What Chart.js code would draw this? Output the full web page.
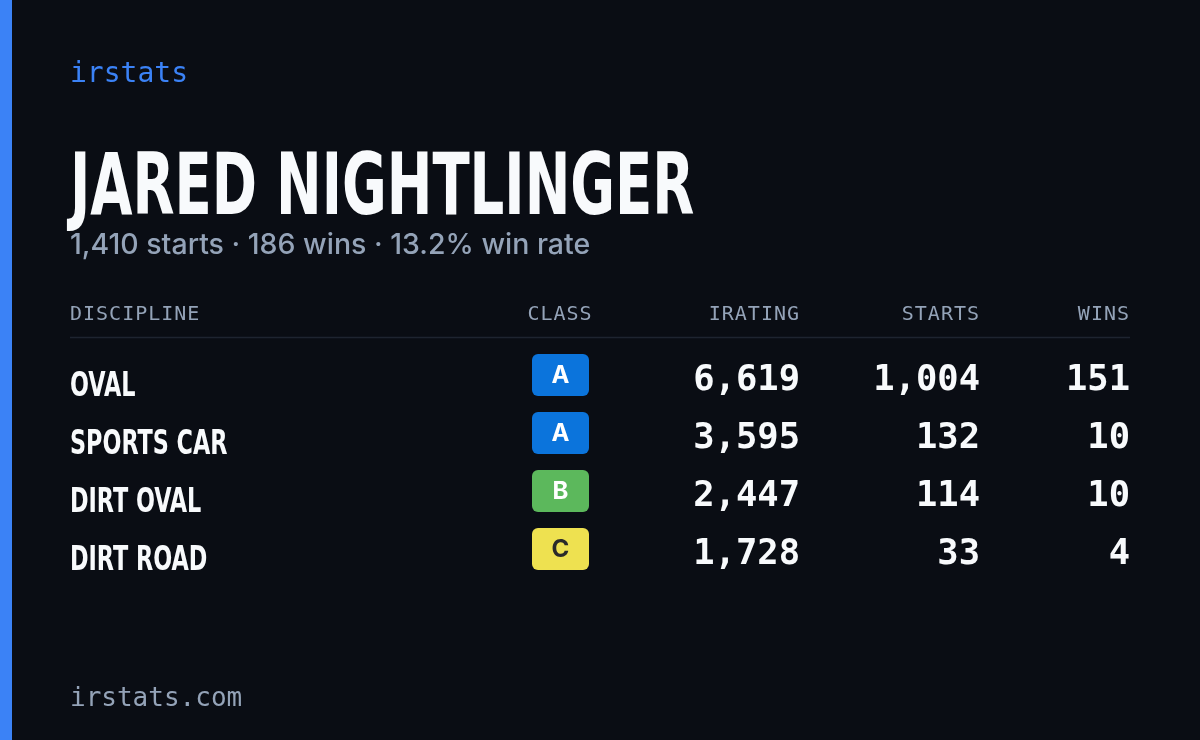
<!DOCTYPE html>
<html><head><meta charset="utf-8">
<script src="https://cdn.jsdelivr.net/npm/chart.js@4.4.1/dist/chart.umd.min.js"></script>
<style>html,body{margin:0;background:#0a0d14;}#w{position:relative;width:1200px;height:740px;}canvas{display:block}</style>
</head><body><div id="w"><canvas id="c" width="1200" height="740"></canvas></div>
<script>
const brand = "irstats";
const footer = "irstats.com";
const driver = "JARED NIGHTLINGER";
const summary = "1,410 starts · 186 wins · 13.2% win rate";
const headers = ["DISCIPLINE", "CLASS", "IRATING", "STARTS", "WINS"];
const disciplines = ["OVAL", "SPORTS CAR", "DIRT OVAL", "DIRT ROAD"];
const classes = ["A", "A", "B", "C"];
const iratings = [6619, 3595, 2447, 1728];
const starts = [1004, 132, 114, 33];
const wins = [151, 10, 10, 4];

const classColors = {A: "#0b74dc", B: "#5cb85c", C: "#eee150"};
const classText = {A: "#ffffff", B: "#ffffff", C: "#2a2a2a"};
const fmt = n => n.toLocaleString("en-US");
const cond = '"DejaVu Sans Condensed","Liberation Sans Narrow",sans-serif';
const mono = '"DejaVu Sans Mono","Liberation Mono",monospace';

const card = {
  id: "card",
  beforeDraw(ch) {
    const c = ch.ctx;
    c.save();
    c.fillStyle = "#0a0d14"; c.fillRect(0, 0, 1200, 740);
    c.fillStyle = "#3b82f6"; c.fillRect(0, 0, 12, 740);
    c.textBaseline = "alphabetic"; c.textAlign = "left";
    c.fillStyle = "#3b82f6"; c.font = "28px " + mono; c.fillText(brand, 70, 82);
    c.fillStyle = "#f8fafc"; c.font = "bold 86px " + cond;
    c.save(); c.translate(70, 214); c.scale(0.705, 1); c.fillText(driver, 0, 0); c.restore();
    c.fillStyle = "#94a3b8"; c.font = "500 28.5px Inter, 'Noto Sans', sans-serif"; c.fillText(summary, 70, 254);
    c.font = "20px " + mono; c.fillStyle = "#94a3b8";
    if ("letterSpacing" in c) c.letterSpacing = "1px";
    const hx = [[70, "left"], [560, "center"], [800, "right"], [980, "right"], [1130, "right"]];
    headers.forEach((h, i) => { c.textAlign = hx[i][1]; c.fillText(h, hx[i][0], 320); });
    if ("letterSpacing" in c) c.letterSpacing = "0px";
    c.strokeStyle = "#1e2430"; c.lineWidth = 1.5;
    c.beginPath(); c.moveTo(70, 337.5); c.lineTo(1130, 337.5); c.stroke();
    c.textAlign = "left"; c.fillStyle = "#94a3b8"; c.font = "26px " + mono; c.fillText(footer, 70, 706);
    const y = ch.scales.y;
    disciplines.forEach((d, i) => {
      const cy = y.getPixelForValue(i);
      c.textAlign = "left"; c.fillStyle = "#f8fafc"; c.font = "bold 34px " + cond;
      c.save(); c.translate(70, cy + 16); c.scale(0.73, 1); c.fillText(d, 0, 0); c.restore();
      const k = classes[i];
      c.fillStyle = classColors[k];
      c.beginPath(); c.roundRect(532, cy - 26, 57, 42, 6); c.fill();
      c.fillStyle = classText[k]; c.textAlign = "center"; c.font = "bold 24px Inter, sans-serif";
      c.fillText(k, 560.5, cy + 3);
      c.fillStyle = "#f8fafc"; c.textAlign = "right"; c.font = "bold 35.5px " + mono;
      c.fillText(fmt(iratings[i]), 800, cy + 10);
      c.fillText(fmt(starts[i]), 980, cy + 10);
      c.fillText(fmt(wins[i]), 1130, cy + 10);
    });
    c.restore();
  }
};

new Chart(document.getElementById("c"), {
  type: "bar",
  data: { labels: disciplines, datasets: [{ data: iratings, backgroundColor: "rgba(0,0,0,0)" }] },
  options: {
    indexAxis: "y", responsive: false, animation: false, events: [],
    layout: { padding: { top: 351, bottom: 157, left: 0, right: 0 } },
    plugins: { legend: { display: false }, tooltip: { enabled: false } },
    scales: { x: { display: false }, y: { display: false } }
  },
  plugins: [card]
});
</script></body></html>
